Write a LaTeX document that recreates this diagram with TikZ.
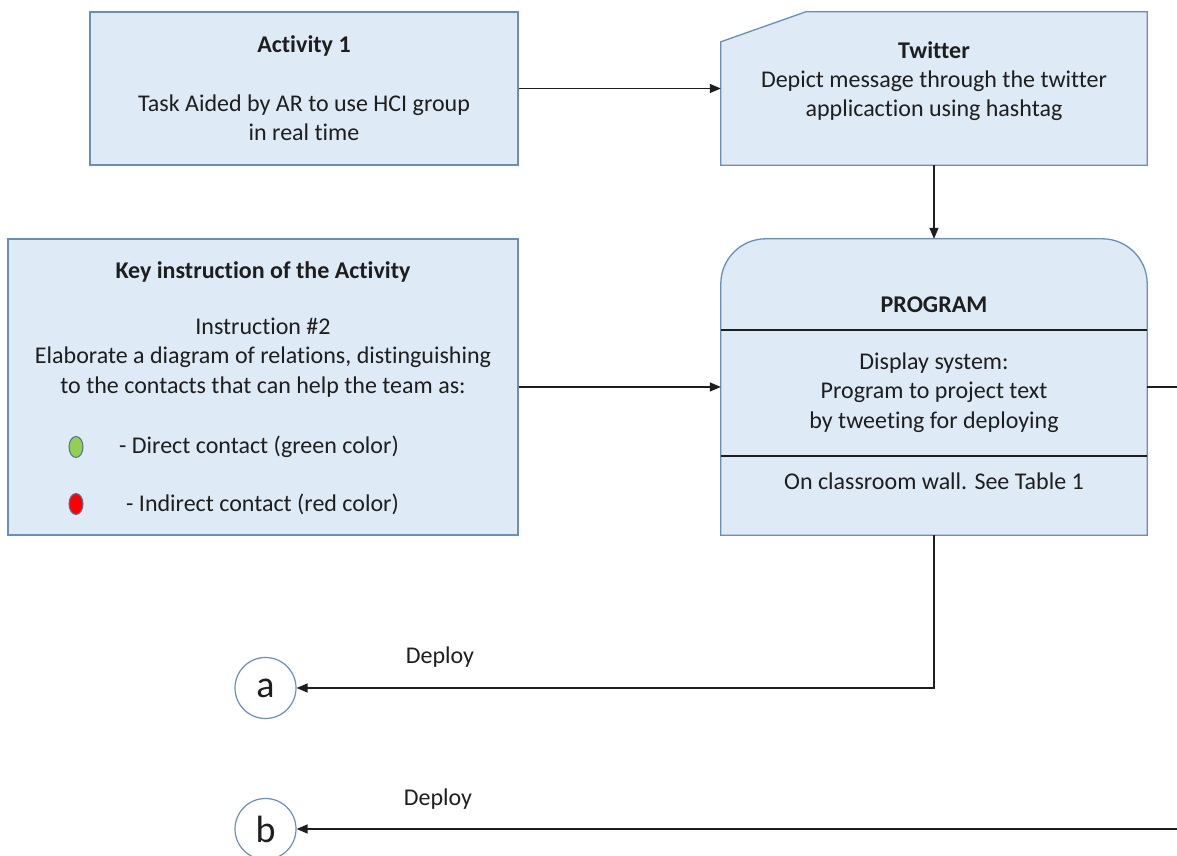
\documentclass[tikz,border=0pt]{standalone}
\usepackage{fontspec}
\setmainfont[Ligatures={NoCommon}]{Carlito}
\usetikzlibrary{arrows.meta,shapes.geometric}
\definecolor{boxfill}{RGB}{222,234,246}
\definecolor{boxline}{RGB}{104,142,186}
\definecolor{txt}{RGB}{30,30,30}
\definecolor{dotgreen}{RGB}{146,208,80}
\tikzset{
  box/.style={draw=boxline, fill=boxfill, line width=1.3pt, inner sep=0pt},
  ghost/.style={inner sep=0pt},
  lbl/.style={text=txt, font=\fontsize{24}{29.3}\selectfont, align=center, inner sep=0pt},
  ttl/.style={lbl, font=\fontsize{24}{29.3}\selectfont\bfseries},
  dot/.style={ellipse, draw=boxline!80!black, line width=1pt, minimum width=14pt, minimum height=21pt, inner sep=0pt},
  ends/.style={circle, draw=boxline, fill=white, line width=1.2pt, minimum size=61pt, inner sep=0pt, text=txt, font=\fontsize{38}{38}\selectfont},
  conn/.style={line width=1.3pt, draw=txt, -{Triangle[length=11pt,width=9pt]}},
}
\begin{document}
\begin{tikzpicture}[x=1pt, y=1pt]
  \useasboundingbox (0,0) rectangle (1177,856);
  % boxes on the left
  \node[box, minimum width=428pt, minimum height=153pt] (act) at (304,767.5) {};
  \node[box, minimum width=510pt, minimum height=296pt] (key) at (263,469) {};
  % twitter box with cut corner
  \node[ghost, minimum width=426pt, minimum height=153pt] (tw) at (934,767.5) {};
  \draw[box] (tw.south west) -- ([yshift=-30pt]tw.north west) -- ([xshift=85pt]tw.north west)
    -- (tw.north east) -- (tw.south east) -- cycle;
  % program box, round top
  \node[ghost, minimum width=426pt, minimum height=296pt] (prg) at (934,469) {};
  \draw[box] (prg.south west) -- ([yshift=-45pt]prg.north west)
    arc[start angle=180, end angle=90, radius=45pt] -- ([xshift=-45pt]prg.north east)
    arc[start angle=90, end angle=0, radius=45pt] -- (prg.south east) -- cycle;
  \draw[line width=1.3pt, draw=txt] (prg.west |- 0,526) -- (prg.east |- 0,526);
  \draw[line width=1.3pt, draw=txt] (prg.west |- 0,400) -- (prg.east |- 0,400);
  % texts
  \node[ttl] (actT) at (304,810) {Activity 1};
  \node[lbl] (actL) at (304,738.5) {Task Aided by AR to use HCI group\\in real time};
  \node[lbl] (twL) at (934,775) {\textbf{Twitter}\\Depict message through the twitter\\applicaction using hashtag};
  \node[ttl] (keyT) at (263,584) {Key instruction of the Activity};
  \node[lbl] (keyL) at (263,498.5) {Instruction \#2\\Elaborate a diagram of relations, distinguishing\\to the contacts that can help the team as:};
  \node[dot, fill=dotgreen] (dg) at (76,409) {};
  \node[lbl, anchor=west] (dgL) at (119,409) {- Direct contact (green color)};
  \node[dot, fill=red] (dr) at (76,352) {};
  \node[lbl, anchor=west] (drL) at (126,352) {- Indirect contact (red color)};
  \node[ttl] (prgT) at (934,551) {PROGRAM};
  \node[lbl] (prgL) at (934,463.5) {Display system:\\Program to project text\\by tweeting for deploying};
  \node[lbl] (prgW) at (934,375) {On classroom wall. See Table 1};
  % end circles
  \node[ends] (ca) at (265.5,168) {a};
  \node[ends] (cb) at (265.5,27) {b};
  \node[lbl] (depA) at (440,199) {Deploy};
  \node[lbl] (depB) at (438,57) {Deploy};
  \coordinate (rgtA) at (1177,469);
  \coordinate (rgtB) at (1177,27);
  % connectors
  \draw[conn] (act.east) -- (tw.west);
  \draw[conn] (tw.south) -- (prg.north);
  \draw[conn] (key.east) -- (prg.west);
  \draw[line width=1.3pt, draw=txt] (prg.east) -- (rgtA);
  \draw[conn] (prg.south) |- (ca.east);
  \draw[conn] (rgtB) -- (cb.east);
\end{tikzpicture}
\end{document}
